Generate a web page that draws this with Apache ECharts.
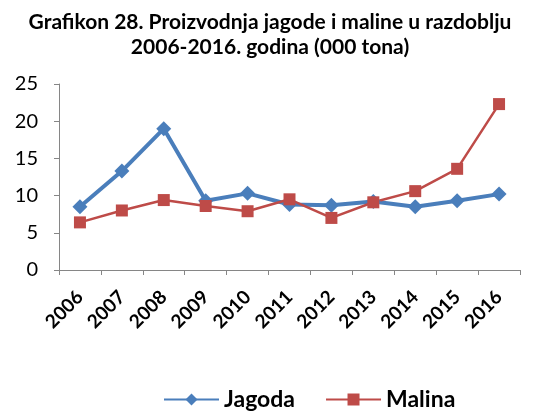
<!DOCTYPE html>
<html><head><meta charset="utf-8">
<script src="https://cdn.jsdelivr.net/npm/echarts@6/dist/echarts.min.js"></script>
<style>html,body{margin:0;padding:0;background:#fff}#c{width:540px;height:412px}</style>
</head><body><div id="c"></div>
<script>
var years = ['2006','2007','2008','2009','2010','2011','2012','2013','2014','2015','2016'];
var jagoda = [8.5, 13.3, 19.0, 9.3, 10.3, 8.8, 8.7, 9.2, 8.5, 9.3, 10.2];
var malina = [6.4, 8.0, 9.4, 8.6, 7.9, 9.5, 7.0, 9.1, 10.6, 13.6, 22.3];
var yTicks = [0, 5, 10, 15, 20, 25];
var FONT = 'Lato, "Open Sans", sans-serif';
var chart = echarts.init(document.getElementById('c'), null, {renderer:'canvas'});
chart.setOption({
  animation: false,
  backgroundColor: '#fff',
  title: {
    text: 'Grafikon 28. Proizvodnja jagode i maline u razdoblju\n2006-2016. godina (000 tona)',
    left: 'center', top: 5,
    textStyle: {fontFamily: FONT, fontWeight: 'bold', fontSize: 21, color: '#000', lineHeight: 25}
  },
  legend: {
    top: 383, left: 158, itemWidth: 55, itemHeight: 15, itemGap: 30,
    textStyle: {fontFamily: FONT, fontWeight: 'bold', fontSize: 23, color: '#000'},
    data: ['Jagoda', 'Malina']
  },
  grid: {left: 59, right: 20, top: 84, bottom: 142},
  xAxis: {
    type: 'category', data: years, boundaryGap: true,
    axisLine: {lineStyle: {color: '#868686', width: 1}},
    axisTick: {show: true, length: 5, lineStyle: {color: '#868686'}},
    axisLabel: {rotate: 45, fontFamily: FONT, fontWeight: 'bold', fontSize: 19, color: '#000', margin: 24, interval: 0}
  },
  yAxis: {
    type: 'value', min: yTicks[0], max: yTicks[yTicks.length-1], interval: 5,
    axisLine: {show: true, lineStyle: {color: '#868686', width: 1}},
    axisTick: {show: true, length: 5, lineStyle: {color: '#868686'}},
    splitLine: {show: false},
    axisLabel: {fontFamily: FONT, fontSize: 20, color: '#000', margin: 21}
  },
  series: [
    {name: 'Jagoda', type: 'line', data: jagoda, symbol: 'diamond', symbolSize: 15,
     lineStyle: {color: '#4A7EBB', width: 4}, itemStyle: {color: '#4A7EBB'}},
    {name: 'Malina', type: 'line', data: malina, symbol: 'rect', symbolSize: 12,
     lineStyle: {color: '#BE4B48', width: 2.5}, itemStyle: {color: '#BE4B48'}}
  ]
});
</script></body></html>
